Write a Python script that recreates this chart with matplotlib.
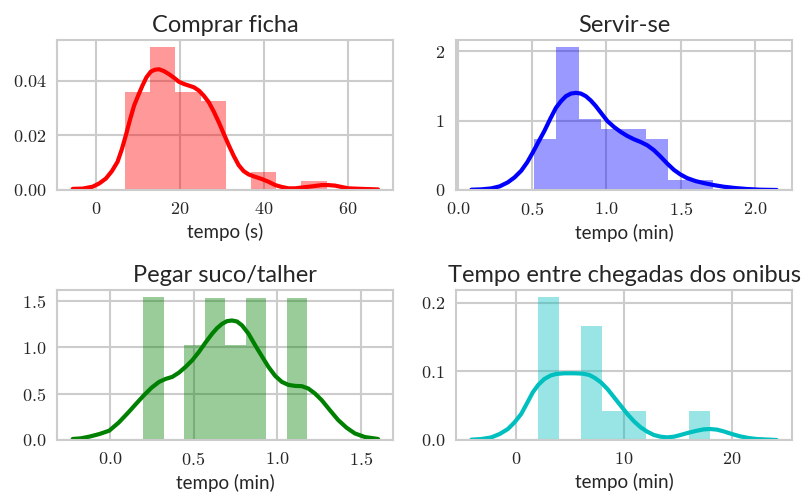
import matplotlib
matplotlib.use("Agg")
import matplotlib.pyplot as plt
import seaborn as sns
from matplotlib.ticker import MultipleLocator, FormatStrFormatter

# histogram bins (edges) and counts per panel
ficha_edges = [6.9, 12.9, 18.9, 24.9, 30.9, 36.9, 42.9, 48.9, 54.9]
ficha_counts = [11, 16, 11, 10, 0, 2, 0, 1]
servir_edges = [0.512, 0.663, 0.814, 0.965, 1.116, 1.267, 1.418, 1.569, 1.72]
servir_counts = [5, 14, 7, 6, 6, 5, 1, 1]
suco_edges = [0.20, 0.322, 0.445, 0.567, 0.69, 0.812, 0.935, 1.057, 1.18]
suco_counts = [3, 0, 2, 3, 2, 3, 0, 3]
onibus_edges = [2, 4, 6, 8, 10, 12, 14, 16, 18]
onibus_counts = [5, 0, 4, 1, 1, 0, 0, 1]

# density curves
ficha_kde_x = [-5.53, -3.16, -0.79, 0.79, 2.37, 3.79, 5.13, 6.16, 7.11, 8.06, 9.08,
               10.11, 11.06, 12.0, 13.03, 13.98, 15.01, 16.19, 17.38, 18.56, 19.75,
               20.93, 22.12, 23.3, 24.49, 25.67, 26.86, 28.04, 29.23, 30.41, 31.6,
               32.78, 33.96, 35.15, 36.33, 37.91, 39.49, 41.07, 42.65, 44.23, 45.81,
               47.39, 48.97, 51.34, 53.71, 55.29, 56.87, 58.45, 60.03, 63.19, 67.14]
ficha_kde_y = [0.0004, 0.0005, 0.0012, 0.0024, 0.0042, 0.0069, 0.0103, 0.0149,
               0.0200, 0.0255, 0.0309, 0.0348, 0.0382, 0.0412, 0.0433, 0.0440,
               0.0442, 0.0435, 0.0424, 0.0411, 0.0396, 0.0388, 0.0382, 0.0376,
               0.0364, 0.0345, 0.0321, 0.0287, 0.0248, 0.0206, 0.0164, 0.0125,
               0.0091, 0.0069, 0.0057, 0.0048, 0.0040, 0.0030, 0.0018, 0.0011,
               0.0006, 0.0006, 0.0009, 0.0013, 0.0018, 0.0018, 0.0016, 0.0011,
               0.0006, 0.0004, 0.0002]
servir_kde_x = [0.092, 0.159, 0.226, 0.282, 0.337, 0.382, 0.427, 0.467, 0.505,
                0.543, 0.583, 0.623, 0.661, 0.695, 0.728, 0.762, 0.795, 0.828,
                0.862, 0.895, 0.929, 0.967, 1.007, 1.052, 1.097, 1.141, 1.186,
                1.230, 1.275, 1.320, 1.364, 1.409, 1.454, 1.498, 1.543, 1.599,
                1.655, 1.722, 1.789, 1.867, 1.945, 2.034, 2.146]
servir_kde_y = [0.004, 0.009, 0.023, 0.052, 0.110, 0.181, 0.277, 0.397, 0.540,
                0.693, 0.851, 1.028, 1.186, 1.281, 1.353, 1.391, 1.401, 1.391,
                1.353, 1.291, 1.210, 1.104, 0.994, 0.908, 0.837, 0.779, 0.731,
                0.693, 0.645, 0.574, 0.483, 0.382, 0.291, 0.224, 0.172, 0.129,
                0.100, 0.071, 0.047, 0.028, 0.014, 0.004, 0.0]
suco_kde_x = [-0.222, -0.173, -0.123, -0.063, -0.004, 0.052, 0.105, 0.155, 0.204,
              0.250, 0.294, 0.333, 0.373, 0.413, 0.452, 0.492, 0.532, 0.571, 0.611,
              0.641, 0.671, 0.700, 0.730, 0.760, 0.790, 0.829, 0.869, 0.909, 0.948,
              0.988, 1.028, 1.067, 1.107, 1.147, 1.186, 1.226, 1.266, 1.315, 1.365,
              1.415, 1.464, 1.524, 1.603]
suco_kde_y = [0.011, 0.018, 0.036, 0.064, 0.100, 0.186, 0.286, 0.386, 0.482, 0.564,
              0.625, 0.657, 0.679, 0.725, 0.786, 0.857, 0.947, 1.047, 1.143, 1.204,
              1.250, 1.279, 1.286, 1.275, 1.233, 1.143, 1.018, 0.900, 0.786, 0.690,
              0.625, 0.593, 0.582, 0.579, 0.554, 0.500, 0.429, 0.321, 0.214, 0.132,
              0.071, 0.032, 0.011]
onibus_kde_x = [-4.155, -3.232, -2.308, -1.539, -0.769, -0.154, 0.462, 1.016, 1.539,
                2.062, 2.617, 3.171, 3.694, 4.463, 5.386, 6.156, 6.772, 7.295, 7.849,
                8.464, 9.080, 9.695, 10.311, 10.927, 11.542, 12.158, 12.773, 13.389,
                14.004, 14.620, 15.235, 16.005, 16.774, 17.390, 18.006, 18.621,
                19.237, 20.006, 20.776, 21.545, 22.315, 24.162]
onibus_kde_y = [0.0005, 0.0014, 0.0038, 0.0087, 0.0160, 0.0257, 0.0379, 0.0540,
                0.0695, 0.0807, 0.0890, 0.0939, 0.0963, 0.0973, 0.0973, 0.0968,
                0.0949, 0.0905, 0.0842, 0.0744, 0.0622, 0.0501, 0.0379, 0.0272,
                0.0185, 0.0121, 0.0073, 0.0048, 0.0038, 0.0048, 0.0073, 0.0107,
                0.0136, 0.0155, 0.0160, 0.0151, 0.0126, 0.0087, 0.0053, 0.0029,
                0.0014, 0.0]

sns.set_style("whitegrid")
plt.rcParams["font.family"] = ["Lato", "DejaVu Sans"]
plt.rcParams["mathtext.fontset"] = "cm"

fig, axes = plt.subplots(2, 2, figsize=(8.06, 4.92), dpi=100)
fig.subplots_adjust(left=0.0713, right=0.9826, top=0.9187, bottom=0.1057,
                    wspace=0.187, hspace=0.667)

panels = [
    (axes[0, 0], ficha_edges, ficha_counts, ficha_kde_x, ficha_kde_y, "r",
     "Comprar ficha", "tempo (s)", 20, "$%d$", 0.02, "$%.2f$"),
    (axes[0, 1], servir_edges, servir_counts, servir_kde_x, servir_kde_y, "b",
     "Servir-se", "tempo (min)", 0.5, "$%.1f$", 1, "$%d$"),
    (axes[1, 0], suco_edges, suco_counts, suco_kde_x, suco_kde_y, "g",
     "Pegar suco/talher", "tempo (min)", 0.5, "$%.1f$", 0.5, "$%.1f$"),
    (axes[1, 1], onibus_edges, onibus_counts, onibus_kde_x, onibus_kde_y, "c",
     "Tempo entre chegadas dos onibus", "tempo (min)", 10, "$%d$", 0.1, "$%.1f$"),
]

for ax, edges, counts, kx, ky, color, title, xlabel, xstep, xfmt, ystep, yfmt in panels:
    centers = [(a + b) / 2 for a, b in zip(edges[:-1], edges[1:])]
    ax.hist(centers, bins=edges, weights=counts, density=True,
            color=color, alpha=0.4, linewidth=0)
    ax.plot(kx, ky, color=color, lw=3, solid_capstyle="round", solid_joinstyle="round")
    ax.set_title(title, fontsize=17, color="#262626", pad=6)
    ax.set_xlabel(xlabel, fontsize=13.5, color="#262626", labelpad=4)
    ax.xaxis.set_major_locator(MultipleLocator(xstep))
    ax.yaxis.set_major_locator(MultipleLocator(ystep))
    ax.xaxis.set_major_formatter(FormatStrFormatter(xfmt))
    ax.yaxis.set_major_formatter(FormatStrFormatter(yfmt))
    ax.tick_params(labelsize=13, colors="#262626", length=0, pad=8)
    ax.grid(True, color="#cccccc", lw=1.5)
    for s in ax.spines.values():
        s.set_color("#cccccc")
        s.set_linewidth(1.5)
    ax.margins(x=0.05)
    ax.set_ylim(0, max(c / (sum(counts) * (edges[1] - edges[0])) for c in counts) * 1.05)

fig.savefig("out.png", dpi=100)
